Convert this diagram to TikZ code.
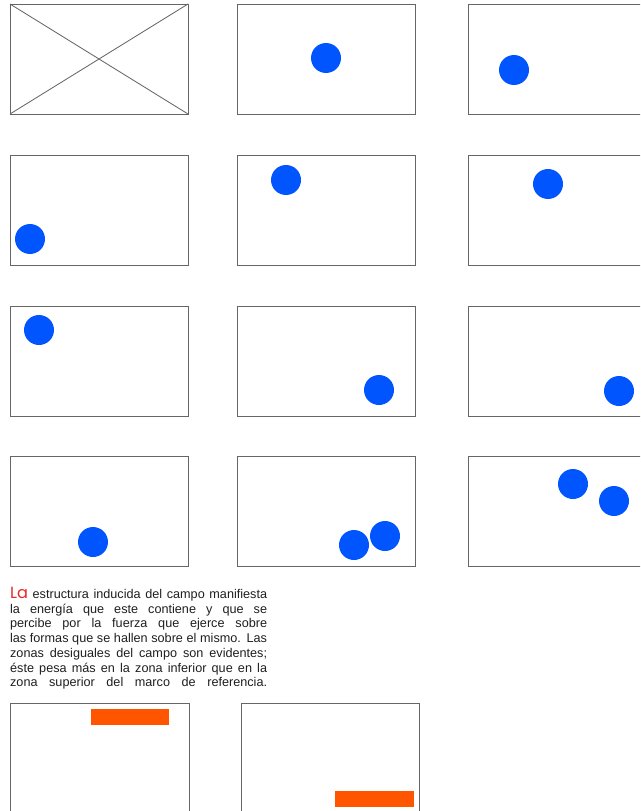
\documentclass[tikz,border=0pt]{standalone}
\usepackage{fontspec}
\setmainfont{Liberation Sans}
\newfontfamily\letraLa{Poppins}

\definecolor{azul}{RGB}{0,85,255}
\definecolor{naranja}{RGB}{255,85,0}
\definecolor{rojoLa}{RGB}{232,40,40}

\newcommand{\hueco}{\hspace{\fill}}

\begin{document}
\begin{tikzpicture}[x=0.05cm, y=-0.05cm,
    marco/.style={draw=black!60, line width=1.2pt},
    bola/.style={fill=azul, radius=0.75cm},
    barra/.style={fill=naranja}]

    \useasboundingbox (0,0) rectangle (640,811);
    \clip (0,0) rectangle (640,811);

    % marcos de referencia
    \foreach \x in {10,237,468}
      \foreach \y in {4,155,306,456}
        \draw[marco] (\x,\y) rectangle ++(178,110);
    \draw[marco] (10,4) -- (188,114) (10,114) -- (188,4);

    % posiciones de la forma
    \fill[bola] (326,58) circle;
    \fill[bola] (514,70) circle;
    \fill[bola] (30,239) circle;
    \fill[bola] (286,180) circle;
    \fill[bola] (548,184) circle;
    \fill[bola] (39,330) circle;
    \fill[bola] (379,390) circle;
    \fill[bola] (619,391) circle;
    \fill[bola] (93,542) circle;
    \fill[bola] (354,545) circle;
    \fill[bola] (385,536) circle;
    \fill[bola] (573,484) circle;
    \fill[bola] (614,501) circle;

    % texto
    \node[anchor=north west, inner sep=0pt, text width=12.85cm, align=justify,
          text=black!88, font=\fontsize{18}{21}\selectfont]
          (texto) at (10,587)
      {\lefthyphenmin=64\relax \righthyphenmin=64\relax
       \hyphenpenalty=10000\relax
       \spaceskip=0.25em plus 0.6em minus 0.15em\relax
       {\letraLa\fontsize{23}{21}\selectfont\color{rojoLa}La} estructura inducida del campo manifiesta\linebreak
       la energía que este contiene y que se\linebreak
       percibe por la fuerza que ejerce sobre\linebreak
       las formas que se hallen sobre el mismo. Las\linebreak
       zonas desiguales del campo son evidentes;\linebreak
       éste pesa más en la zona inferior que en la\linebreak
       zona\hueco{} superior\hueco{} del\hueco{} marco\hueco{} de\hueco{} referencia.};

    % barras
    \draw[marco] (10,703) rectangle (189,830);
    \draw[marco] (241,703) rectangle (419,830);
    \fill[barra] (91,709) rectangle (169,725);
    \fill[barra] (335,791) rectangle (414,807);

\end{tikzpicture}
\end{document}
